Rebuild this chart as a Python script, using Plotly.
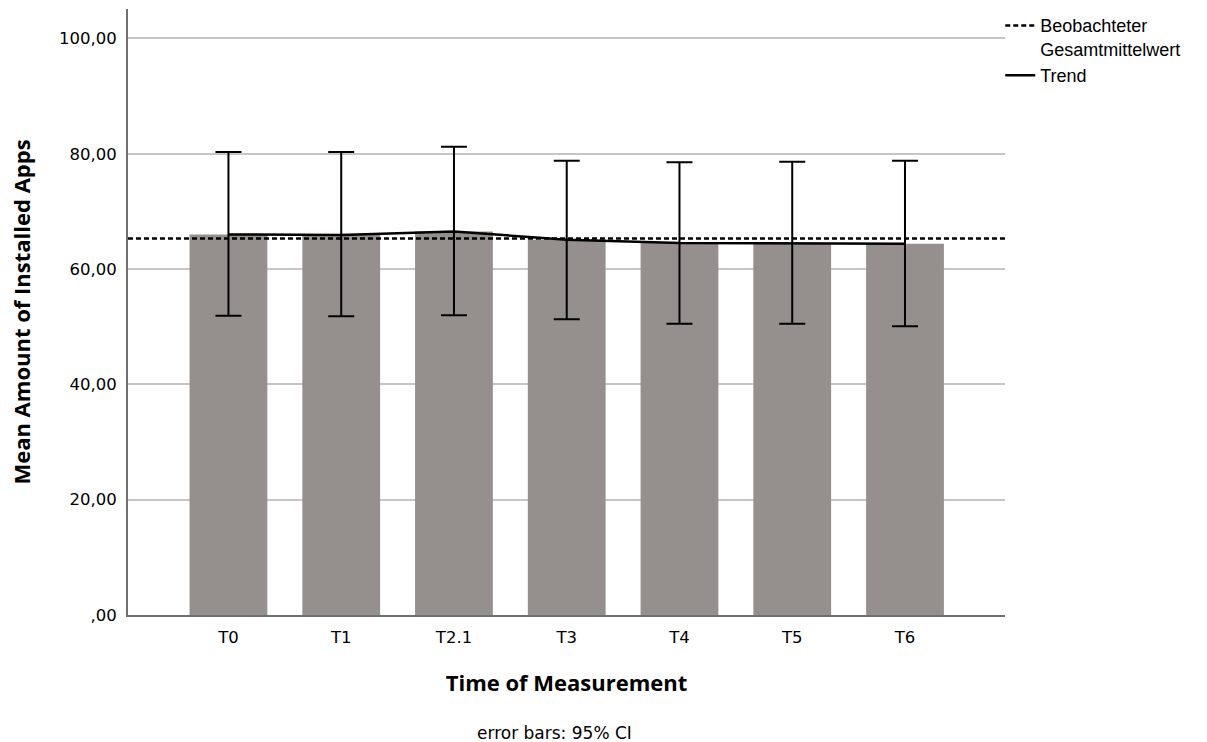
import plotly.graph_objects as go

# Measurement occasions and mean number of installed apps with 95% CI bounds
categories = ["T0", "T1", "T2.1", "T3", "T4", "T5", "T6"]
means = [66.0, 65.9, 66.5, 65.1, 64.5, 64.5, 64.4]
ci_low = [51.9, 51.8, 52.0, 51.3, 50.5, 50.5, 50.1]
ci_high = [80.3, 80.3, 81.2, 78.8, 78.5, 78.6, 78.8]
grand_mean = 65.3

y_tickvals = [0, 20, 40, 60, 80, 100]
y_ticktext = [",00", "20,00", "40,00", "60,00", "80,00", "100,00"]

err_plus = [h - m for h, m in zip(ci_high, means)]
err_minus = [m - l for m, l in zip(means, ci_low)]

fig = go.Figure()

fig.add_trace(go.Bar(
    x=categories,
    y=means,
    marker=dict(color="#95908e", line=dict(width=0)),
    error_y=dict(
        type="data",
        symmetric=False,
        array=err_plus,
        arrayminus=err_minus,
        color="#000000",
        thickness=2,
        width=13,
    ),
    showlegend=False,
    hoverinfo="skip",
))

fig.add_trace(go.Scatter(
    x=categories,
    y=means,
    mode="lines",
    line=dict(color="#000000", width=2.5),
    name="Trend",
    legendrank=2,
))

# Observed grand mean as a dashed reference line across the whole plot
fig.add_shape(
    type="line",
    xref="x domain", x0=0, x1=1,
    yref="y", y0=grand_mean, y1=grand_mean,
    line=dict(color="#000000", width=2.5, dash="5px,3px"),
    layer="above",
    showlegend=True,
    name="Beobachteter<br>Gesamtmittelwert",
    legendrank=1,
)

fig.update_layout(
    width=1207,
    height=742,
    margin=dict(l=128, r=202, t=9, b=127, autoexpand=False),
    paper_bgcolor="#ffffff",
    plot_bgcolor="#ffffff",
    bargap=0.31,
    showlegend=True,
    legend=dict(
        x=0.9946, y=1.003,
        xanchor="left", yanchor="top",
        font=dict(family="Liberation Sans, Arial, sans-serif", size=18, color="#000000"),
        bgcolor="rgba(0,0,0,0)",
        valign="top",
        tracegroupgap=0,
        itemwidth=30,
    ),
    xaxis=dict(
        range=[-0.891, 6.887],
        showgrid=False,
        showline=True,
        linecolor="#707070",
        linewidth=2,
        ticks="",
        ticklabelstandoff=6,
        tickfont=dict(family="DejaVu Sans, sans-serif", size=16.5, color="#000000"),
        title=dict(
            text="Time of Measurement",
            font=dict(family="Open Sans, sans-serif", size=22, color="#000000", weight="bold"),
            standoff=30,
        ),
        zeroline=False,
    ),
    yaxis=dict(
        range=[0, 105.1],
        tickvals=y_tickvals,
        ticktext=y_ticktext,
        showgrid=True,
        gridcolor="#c6c6c6",
        gridwidth=1.5,
        showline=True,
        linecolor="#707070",
        linewidth=2,
        ticks="",
        ticklabelstandoff=6,
        tickfont=dict(family="DejaVu Sans, sans-serif", size=16.5, color="#000000"),
        title=dict(
            text="Mean Amount of Installed Apps",
            font=dict(family="Open Sans, sans-serif", size=22, color="#000000", weight="bold"),
            standoff=22,
        ),
        zeroline=False,
    ),
    annotations=[
        dict(
            text="error bars: 95% CI",
            xref="paper", yref="paper",
            x=(554 - 128) / 877, y=-(733 - 615) / 606,
            xanchor="center", yanchor="middle",
            showarrow=False,
            font=dict(family="DejaVu Sans, sans-serif", size=17, color="#000000"),
        )
    ],
)

fig.write_html("out.html")
